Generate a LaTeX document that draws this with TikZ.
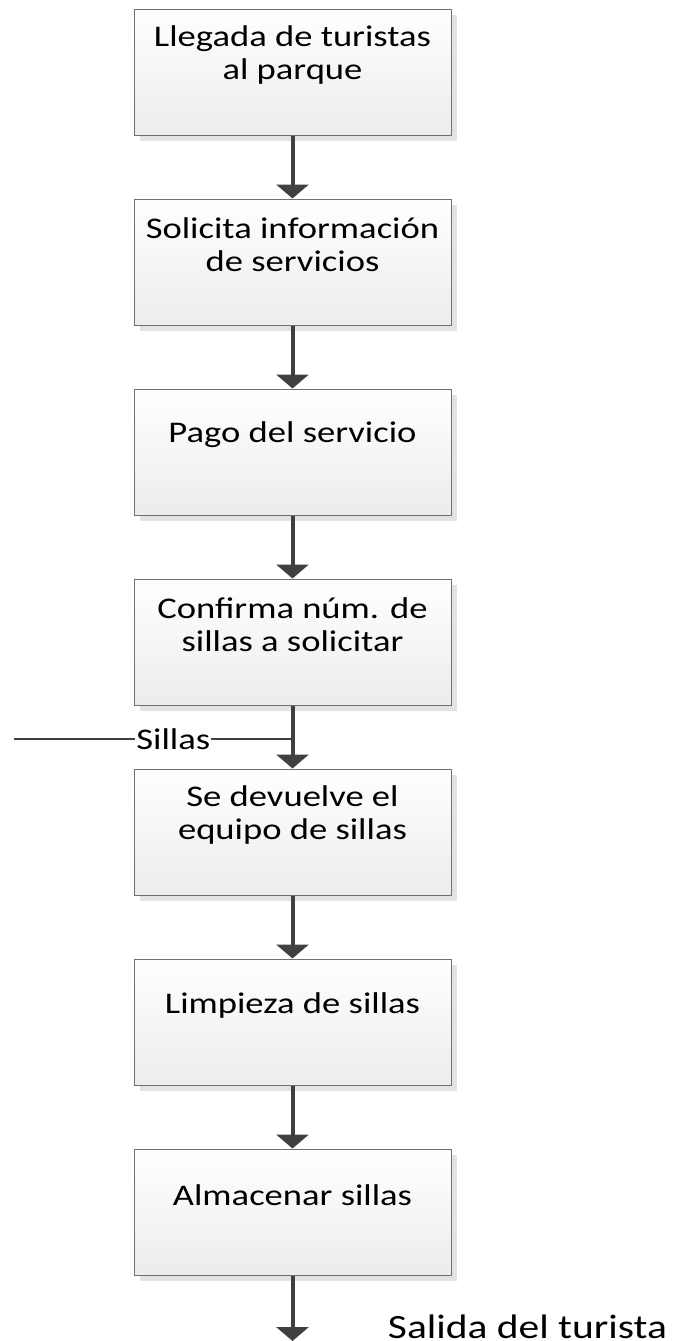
\documentclass[tikz,border=0pt]{standalone}
\usepackage{fontspec}
\setmainfont{Carlito}[FakeStretch=1.22]
\usetikzlibrary{arrows.meta,shadows}
\definecolor{arrowgray}{HTML}{404040}
\definecolor{bordergray}{HTML}{707070}
\definecolor{shadowgray}{HTML}{E3E3E3}
\definecolor{fillbottom}{HTML}{ECECEC}
\tikzset{
  stepbox/.style={draw=bordergray, line width=1pt, minimum width=317pt, minimum height=126pt,
    inner sep=0pt, top color=white, bottom color=fillbottom,
    general shadow={fill=shadowgray, shadow xshift=6pt, shadow yshift=-6pt}},
  steptext/.style={align=center, inner sep=0pt, font=\fontsize{30}{33}\selectfont},
  flowarrow/.style={draw=arrowgray, line width=4pt, -{Triangle[width=32pt,length=14pt]}},
  feedline/.style={draw=arrowgray, line width=2pt},
}
\begin{document}
\begin{tikzpicture}[x=1pt,y=-1pt]
\useasboundingbox (0,0) rectangle (675,1341);
\foreach \i/\t in {1/{Llegada de turistas\\al parque},
                   2/{Solicita información\\de servicios},
                   3/{Pago del servicio},
                   4/{Confirma núm. de\\sillas a solicitar},
                   5/{Se devuelve el\\equipo de sillas},
                   6/{Limpieza de sillas},
                   7/{Almacenar sillas}}{
  \pgfmathsetmacro\top{9+190*(\i-1)}
  \node[stepbox] (b\i) at (292.5,\top+63) {};
  \node[steptext] (t\i) at (292.5,\top+46) {\t};
}
\draw[flowarrow] (b1.south) -- (b2.north);
\draw[flowarrow] (b2.south) -- (b3.north);
\draw[flowarrow] (b3.south) -- (b4.north);
\draw[flowarrow] (b4.south) -- (b5.north);
\draw[flowarrow] (b5.south) -- (b6.north);
\draw[flowarrow] (b6.south) -- (b7.north);
\coordinate (sillasstart) at (14,739);
\coordinate (sillasjoin) at (292.5,739);
\draw[feedline] (sillasstart) -- node[pos=0.572, fill=white, inner sep=1pt, font=\fontsize{30}{33}\selectfont] (sillas) {Sillas} (sillasjoin);
\coordinate (endpt) at (292.5,1341);
\draw[flowarrow] (b7.south) -- (endpt);
\node[anchor=base, inner sep=0pt, text depth=0pt, font=\fontsize{34}{40}\selectfont] (salida) at (527.5,1338) {Salida del turista};
\end{tikzpicture}
\end{document}
